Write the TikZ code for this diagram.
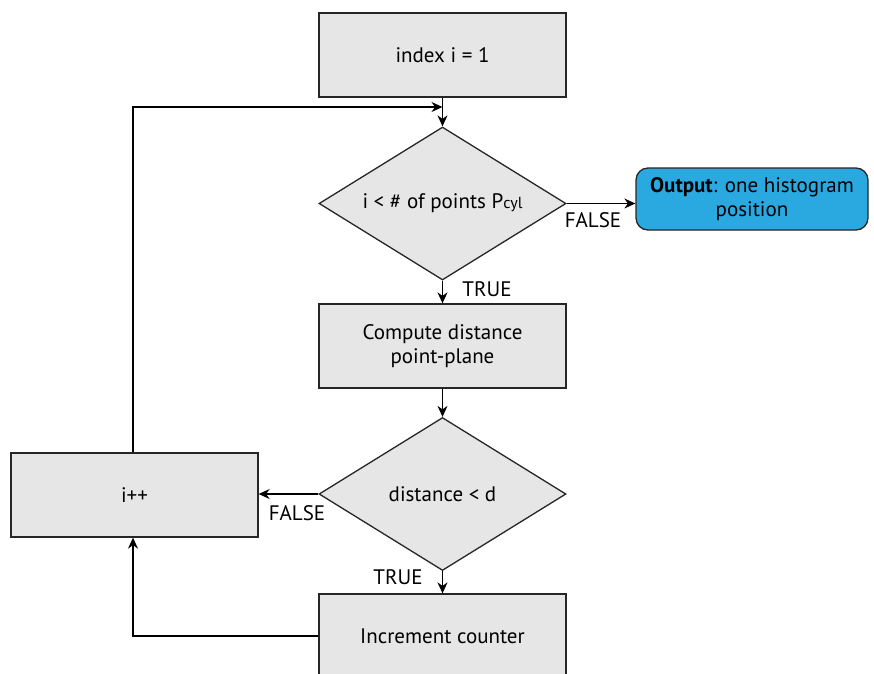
\documentclass[tikz,border=0pt]{standalone}
\usepackage{fontspec}
\setmainfont{PT Sans}
\usetikzlibrary{arrows.meta,shapes.geometric}
\definecolor{boxgray}{HTML}{E6E6E6}
\definecolor{outblue}{HTML}{29A9E0}
\begin{document}
\begin{tikzpicture}[x=1pt,y=-1pt,
  font=\fontsize{21}{24}\selectfont,
  line width=1.3pt,
  procbox/.style={draw=black!85,fill=boxgray,minimum width=247pt,minimum height=84pt,inner sep=0pt,align=center},
  decision/.style={draw=black!85,fill=boxgray,diamond,shape aspect=1.614,minimum width=247pt,minimum height=153pt,inner sep=0pt,align=center},
  outbox/.style={draw=black!85,fill=outblue,rounded corners=12pt,minimum width=232pt,minimum height=62pt,inner sep=0pt,align=center},
  arr/.style={-{Stealth[length=11pt,width=10pt]}},
  lbl/.style={inner sep=0pt}
]
\useasboundingbox (0,0) rectangle (874,673);
\node[procbox] (init) at (442.5,55) {index i = 1};
\node[decision] (d1) at (442.5,203.5) {i < \# of points P{\fontsize{16}{18}\selectfont cyl}};
\node[outbox] (out) at (752,199) {\textbf{Output}: one histogram\\position};
\node[procbox] (comp) at (442.5,346) {Compute distance\\point-plane};
\node[decision] (d2) at (442.5,494) {distance < d};
\node[procbox] (inc) at (134.5,495) {i++};
\node[procbox] (cnt) at (442.5,636) {Increment counter};
\coordinate (join) at (442.5,107);
\coordinate (lt) at (133,107);
\coordinate (lb) at (133,636);

\draw (init.south) -- (join);
\draw[arr] (join) -- (d1.north);
\draw[arr] (inc.north -| lt) -- (lt) -- (join);
\draw[arr] (d1.east) -- (out.west |- d1.east);
\node[lbl] at (593,220) {FALSE};
\draw[arr] (d1.south) -- (comp.north);
\node[lbl] at (487,289) {TRUE};
\draw[arr] (comp.south) -- (d2.north);
\draw[arr] (d2.west) -- (inc.east |- d2.west);
\node[lbl] at (297,513) {FALSE};
\draw[arr] (d2.south) -- (cnt.north);
\node[lbl] at (398,577) {TRUE};
\draw[arr] (cnt.west) -- (lb) -- (inc.south -| lb);
\end{tikzpicture}
\end{document}
